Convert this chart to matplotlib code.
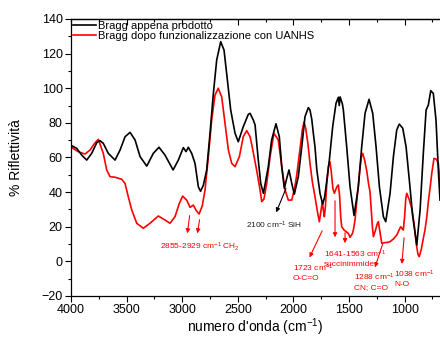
import matplotlib
matplotlib.use("Agg")
import matplotlib.pyplot as plt
from matplotlib.ticker import MultipleLocator

plt.rcParams['font.family'] = ['Liberation Sans', 'DejaVu Sans']
plt.rcParams['mathtext.fontset'] = 'custom'
plt.rcParams['mathtext.rm'] = 'Liberation Sans'
plt.rcParams['mathtext.it'] = 'Liberation Sans:italic'
plt.rcParams['mathtext.bf'] = 'Liberation Sans:bold'

# Bragg appena prodotto (black)
black_w = [4000, 3949, 3904, 3859, 3814, 3769, 3740, 3710, 3665, 3604, 3559, 3514, 3469, 3424,
           3379, 3319, 3260, 3209, 3155, 3082, 3035, 2990, 2966, 2945, 2915, 2885, 2855, 2835,
           2810, 2780, 2750, 2720, 2690, 2654, 2624, 2594, 2564, 2525, 2496, 2451, 2406, 2390,
           2361, 2345, 2316, 2294, 2270, 2226, 2196, 2157, 2127, 2105, 2082, 2060, 2040, 2015,
           1992, 1956, 1925, 1896, 1866, 1851, 1835, 1821, 1806, 1790, 1761, 1737, 1720, 1707,
           1677, 1647, 1617, 1596, 1588, 1580, 1560, 1551, 1521, 1491, 1455, 1416, 1386, 1356,
           1320, 1287, 1257, 1227, 1191, 1170, 1131, 1101, 1071, 1048, 1017, 987, 958, 927,
           891, 861, 832, 807, 787, 765, 742, 718, 697, 682]
black_v = [67, 65.3, 61.4, 58.5, 62.4, 68.5, 69.7, 68.2, 62.4, 58.5, 64.3, 72, 74.5, 70.1,
           60.5, 55, 62.4, 65.9, 61.4, 52.8, 58.5, 65.7, 63.4, 65.9, 62.4, 56.6, 43, 40.5,
           44, 52.8, 74, 97, 116.3, 126.9, 122, 104.8, 87.4, 74, 69.1, 77.8, 84.9, 85.5,
           81.7, 78.8, 58.5, 45, 39.3, 54.7, 70.1, 79.5, 72, 54.7, 42.2, 48, 52.8, 45,
           38.8, 49, 66.2, 83.6, 88.8, 87.4, 82, 74, 66, 53, 39.3, 33, 37, 43,
           58.5, 77.8, 91.3, 94.8, 90, 95, 91, 87.4, 66.2, 43.1, 26.5, 43.1, 66.2, 85.5,
           93.6, 85.5, 66.2, 43.1, 25.8, 22.9, 39.3, 60.5, 75.9, 79.3, 76.9, 66.2, 47, 25.8,
           9.4, 29.7, 62.4, 87.4, 90.3, 98.6, 97, 81.7, 52.8, 35.4]

# Bragg dopo funzionalizzazione con UANHS (red)
red_w = [4001, 4000, 3934, 3874, 3829, 3784, 3754, 3710, 3679, 3649, 3604, 3544, 3514, 3485,
         3454, 3409, 3350, 3290, 3215, 3155, 3110, 3065, 3026, 2996, 2960, 2930, 2900, 2875,
         2849, 2820, 2795, 2765, 2735, 2705, 2676, 2645, 2615, 2585, 2555, 2525, 2486, 2451,
         2420, 2390, 2371, 2331, 2300, 2285, 2265, 2240, 2210, 2175, 2136, 2105, 2075, 2046,
         2015, 1990, 1970, 1950, 1935, 1920, 1905, 1890, 1870, 1851, 1830, 1806, 1785, 1767,
         1755, 1740, 1730, 1722, 1712, 1700, 1685, 1672, 1660, 1645, 1632, 1610, 1596, 1585,
         1575, 1566, 1545, 1525, 1505, 1491, 1470, 1461, 1446, 1425, 1405, 1390, 1377, 1360,
         1340, 1325, 1311, 1300, 1290, 1281, 1262, 1245, 1236, 1222, 1206, 1180, 1150, 1131,
         1100, 1071, 1050, 1036, 1012, 1000, 990, 981, 960, 937, 915, 895, 880, 869,
         850, 830, 817, 800, 787, 770, 756, 736, 715, 697, 682]
red_v = [-30, 66, 63.3, 62, 64.3, 68.5, 70.5, 62.4, 52.8, 48.9, 48.6, 47.4, 45, 37.3,
         29.7, 22, 19.1, 22, 26.2, 23.9, 22, 25.8, 33.5, 37.7, 35.4, 31.2, 32.5, 29.5,
         27.3, 32, 41.2, 60.5, 81.7, 96.1, 100, 95, 79.7, 64.3, 56.6, 54.7, 60.5, 72,
         75.5, 72, 66.2, 52.8, 41.2, 34.5, 36, 45, 60.5, 74, 70.1, 54.7, 41.2, 35.4,
         35.4, 42, 50, 60, 68, 76, 80.5, 77, 68, 56.6, 46, 37.3, 29, 22.9,
         28, 34.5, 29, 25.8, 32, 45, 55, 57.6, 52, 42, 39.3, 43, 44.1, 38,
         26, 20, 18.1, 17.1, 16, 13.9, 16, 18.1, 24, 38, 52, 60, 62.4, 58.5,
         52, 45, 40, 30, 20, 14.3, 18, 22, 22.9, 17, 10.4, 10.8, 11, 11.4,
         13, 15.2, 18, 20, 18.1, 26, 36, 39.3, 36, 30.6, 22, 10, 4, 2.7,
         7, 14, 18.1, 26, 34.5, 43, 50.9, 59.5, 59, 56.6, 45]

series_labels = ["Bragg appena prodotto", "Bragg dopo funzionalizzazione con UANHS"]

x_ticks = [4000, 3500, 3000, 2500, 2000, 1500, 1000]
y_ticks = [-20, 0, 20, 40, 60, 80, 100, 120, 140]

fig = plt.figure(figsize=(4.4, 3.38), dpi=100)
ax = fig.add_axes([0.1614, 0.1243, 0.8386, 0.8195])

ax.plot(black_w, black_v, color='black', lw=1.2, label=series_labels[0], zorder=3)
ax.plot(red_w, red_v, color='red', lw=1.2, label=series_labels[1], zorder=2)

ax.set_xlim(4000, 682)
ax.set_ylim(-20, 140)
ax.set_xticks(x_ticks)
ax.set_yticks(y_ticks)
ax.xaxis.set_minor_locator(MultipleLocator(250))
ax.yaxis.set_minor_locator(MultipleLocator(10))
ax.tick_params(axis='both', which='major', direction='out', length=4, width=0.8,
               labelsize=9, pad=2)
ax.tick_params(axis='both', which='minor', direction='out', length=2.5, width=0.8)
ax.spines['right'].set_visible(False)
for s in ['left', 'bottom', 'top']:
    ax.spines[s].set_linewidth(0.9)

top = ax.secondary_xaxis('top')
top.set_xticks(x_ticks)
top.xaxis.set_minor_locator(MultipleLocator(250))
top.tick_params(which='major', direction='in', length=4, width=0.8, labeltop=False)
top.tick_params(which='minor', direction='in', length=2.5, width=0.8)
top.spines['top'].set_linewidth(0.9)

ax.set_xlabel("numero d'onda (cm$^{-1}$)", fontsize=10, labelpad=0)
ax.set_ylabel("% Riflettività", fontsize=10, labelpad=13)

ax.legend(loc='upper left', bbox_to_anchor=(0.0, 1.0), frameon=False, fontsize=8,
          handlelength=2.1, handletextpad=0.2, labelspacing=0.05, borderpad=0.15,
          borderaxespad=0.0)

ann_kw = dict(arrowstyle='-|>', lw=0.8, mutation_scale=6)
fs = 6

# CH2
ax.annotate('', xy=(2957, 14.6), xytext=(2930, 28),
            arrowprops=dict(color='red', **ann_kw))
ax.annotate('', xy=(2867, 14.6), xytext=(2840, 25.6),
            arrowprops=dict(color='red', **ann_kw))
ax.text(3200, 8.5, "2855-2929 cm$^{-1}$ CH$_2$", color='red', fontsize=fs,
        ha='left', va='center')

# SiH
ax.annotate('', xy=(2165, 26.8), xytext=(2058, 43.5),
            arrowprops=dict(color='black', **ann_kw))
ax.text(2426, 21, "2100 cm$^{-1}$ SiH", color='#222222', fontsize=fs,
        ha='left', va='center')

# O-C=O
ax.annotate('', xy=(1866, 0.8), xytext=(1731, 19.1),
            arrowprops=dict(color='red', **ann_kw))
ax.text(2007, -6.4, "1723 cm$^{-1}$\nO-C=O", color='red', fontsize=fs,
        ha='left', va='center', linespacing=1.2)

# succinimmide
ax.annotate('', xy=(1626, 12.3), xytext=(1626, 36.6),
            arrowprops=dict(color='red', **ann_kw))
ax.annotate('', xy=(1536, 8.9), xytext=(1536, 18.1),
            arrowprops=dict(color='red', **ann_kw))
ax.text(1725, 2, "1641-1563 cm$^{-1}$\nsuccinimmide", color='red', fontsize=fs,
        ha='left', va='center', linespacing=1.2)

# CN; C=O
ax.annotate('', xy=(1275, -5), xytext=(1191, 11.3),
            arrowprops=dict(color='red', **ann_kw))
ax.text(1455, -11.4, "1288 cm$^{-1}$\nCN; C=O", color='red', fontsize=fs,
        ha='left', va='center', linespacing=1.2)

# N-O
ax.annotate('', xy=(1027, -3.1), xytext=(1003, 15.2),
            arrowprops=dict(color='red', **ann_kw))
ax.text(1095, -9.6, "1038 cm$^{-1}$\nN-O", color='red', fontsize=fs,
        ha='left', va='center', linespacing=1.2)

fig.savefig("out.png", dpi=100)
